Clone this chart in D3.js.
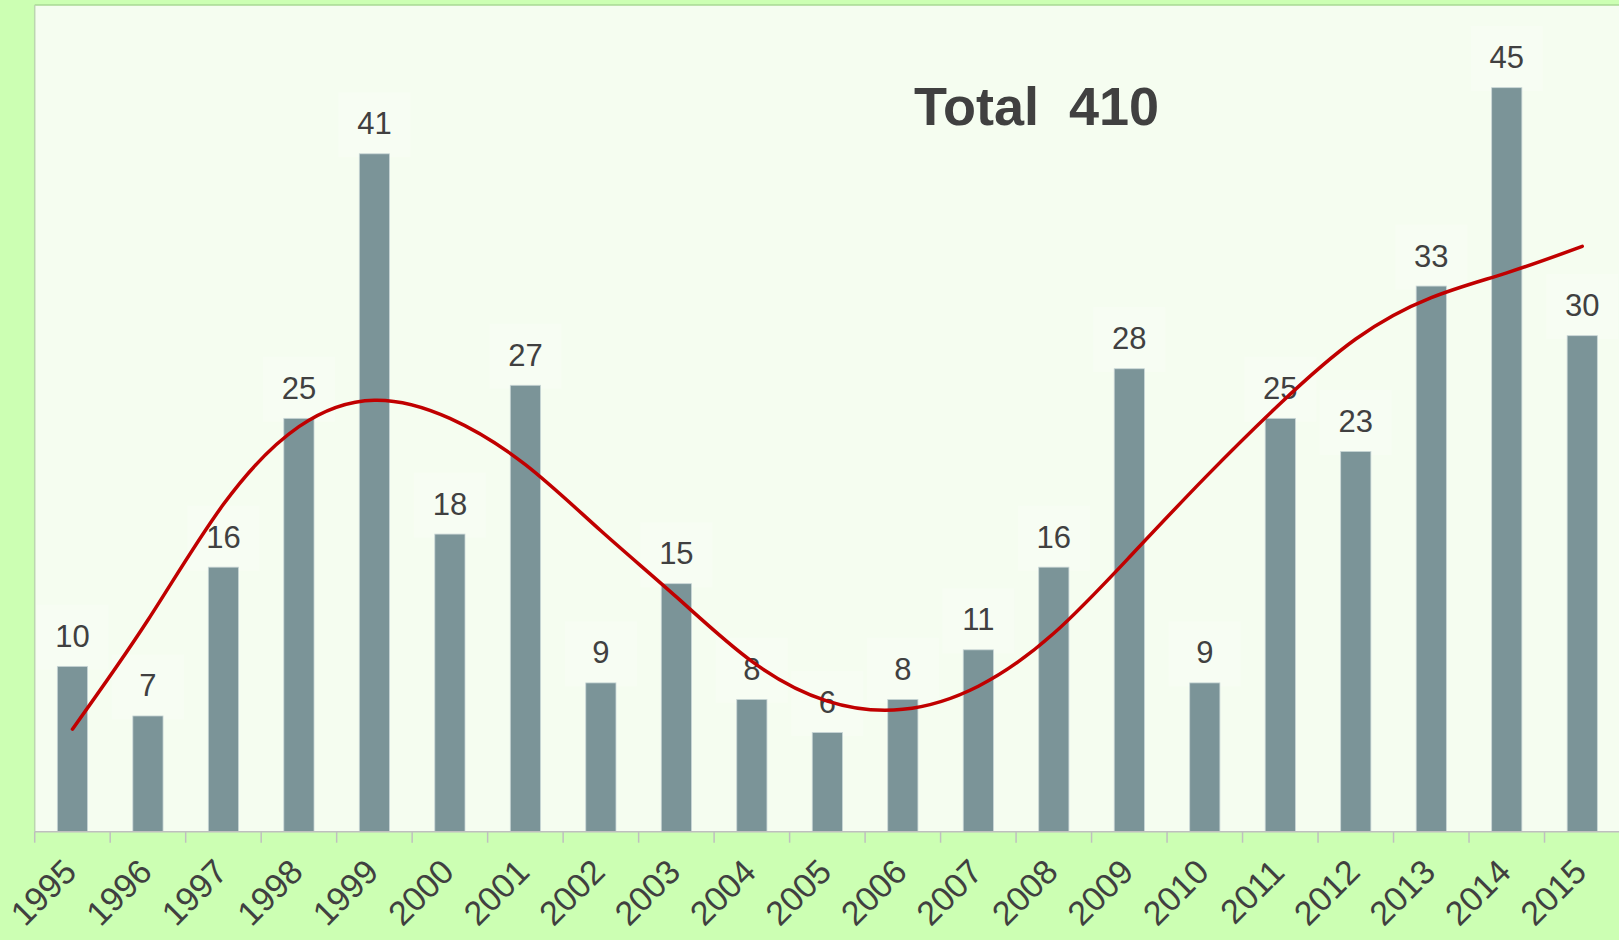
<!DOCTYPE html>
<html>
<head>
<meta charset="utf-8">
<script src="https://cdn.jsdelivr.net/npm/d3@7"></script>
<style>
  html, body { margin: 0; padding: 0; background: #ccffb3; overflow: hidden; }
  svg { display: block; }
  text { font-family: "Liberation Sans", Arial, sans-serif; }
</style>
</head>
<body>
<svg id="chart" width="1619" height="940"></svg>
<script>
// ---- data ----
const years = ["1995","1996","1997","1998","1999","2000","2001","2002","2003","2004","2005",
               "2006","2007","2008","2009","2010","2011","2012","2013","2014","2015"];
const counts = [10, 7, 16, 25, 41, 18, 27, 9, 15, 8, 6, 8, 11, 16, 28, 9, 25, 23, 33, 45, 30];
const trend = [6.2, 12.8, 19.8, 24.5, 26.1, 25.0, 22.2, 18.2, 14.2, 10.3, 7.9, 7.4, 8.8, 12.0,
               16.6, 21.4, 25.9, 29.8, 32.3, 33.8, 35.4];
const yDomain = [0, 50];
const titleText = "Total  410";

// ---- layout ----
const plot = { left: 34.7, right: 1620, top: 5, bottom: 831.7 };

const svg = d3.select("#chart");

const x = d3.scaleBand().domain(years).range([plot.left, plot.right]).paddingInner(0.6).paddingOuter(0.3);
const xc = d => x(d) + x.bandwidth() / 2;
const y = d3.scaleLinear().domain(yDomain).range([plot.bottom, plot.top]);

// plot background
svg.append("rect")
  .attr("x", plot.left).attr("y", plot.top)
  .attr("width", plot.right - plot.left).attr("height", plot.bottom - plot.top)
  .attr("fill", "#f5fdf0");
// top & left border
svg.append("line").attr("x1", plot.left).attr("x2", plot.right).attr("y1", plot.top).attr("y2", plot.top)
  .attr("stroke", "#a8d994").attr("stroke-width", 1.5);
svg.append("line").attr("x1", plot.left).attr("x2", plot.left).attr("y1", plot.top).attr("y2", plot.bottom)
  .attr("stroke", "#bcd6b0").attr("stroke-width", 1.5);

// label background boxes
const labelBaseline = d => y(d) - 19.5;
svg.append("g").selectAll("rect").data(counts).join("rect")
  .attr("x", (d, i) => xc(years[i]) - 36)
  .attr("y", d => labelBaseline(d) - 42)
  .attr("width", 72).attr("height", 65)
  .attr("fill", "#f7fdf3");

// bars
svg.append("g").selectAll("rect").data(counts).join("rect")
  .attr("x", (d, i) => x(years[i]))
  .attr("y", d => y(d))
  .attr("width", x.bandwidth())
  .attr("height", d => y(0) - y(d))
  .attr("fill", "#7b9498")
  .attr("stroke", "#c9d6d6").attr("stroke-width", 0.8);

// value labels
svg.append("g").selectAll("text").data(counts).join("text")
  .attr("x", (d, i) => xc(years[i]))
  .attr("y", d => labelBaseline(d))
  .attr("text-anchor", "middle")
  .attr("font-size", 31)
  .attr("fill", "#404040")
  .text(d => d);

// trend line
const line = d3.line()
  .x((d, i) => xc(years[i]))
  .y(d => y(d))
  .curve(d3.curveNatural);
svg.append("path").datum(trend)
  .attr("d", line)
  .attr("fill", "none")
  .attr("stroke", "#c00000")
  .attr("stroke-width", 3.5)
  .attr("stroke-linecap", "round");

// x axis
const step = x.step();
const axisG = svg.append("g").attr("transform", `translate(0,${plot.bottom})`);
axisG.append("line").attr("x1", plot.left).attr("x2", plot.right).attr("y1", 0).attr("y2", 0)
  .attr("stroke", "#bfbfbf").attr("stroke-width", 1.5);
axisG.selectAll("line.tk").data(d3.range(years.length + 1)).join("line")
  .attr("class", "tk")
  .attr("x1", i => plot.left + i * step).attr("x2", i => plot.left + i * step)
  .attr("y1", 0).attr("y2", 11)
  .attr("stroke", "#bfbfbf").attr("stroke-width", 1.5);
axisG.selectAll("text.yl").data(years).join("text")
  .attr("class", "yl")
  .attr("text-anchor", "end")
  .attr("font-size", 34)
  .attr("fill", "#404040")
  .attr("transform", d => `translate(${xc(d) + 6},${874 - plot.bottom}) rotate(-45)`)
  .text(d => d);

// title
svg.append("text")
  .attr("x", 914).attr("y", 125)
  .attr("font-size", 54).attr("font-weight", "bold")
  .attr("fill", "#404040")
  .style("white-space", "pre")
  .text(titleText);
</script>
</body>
</html>
